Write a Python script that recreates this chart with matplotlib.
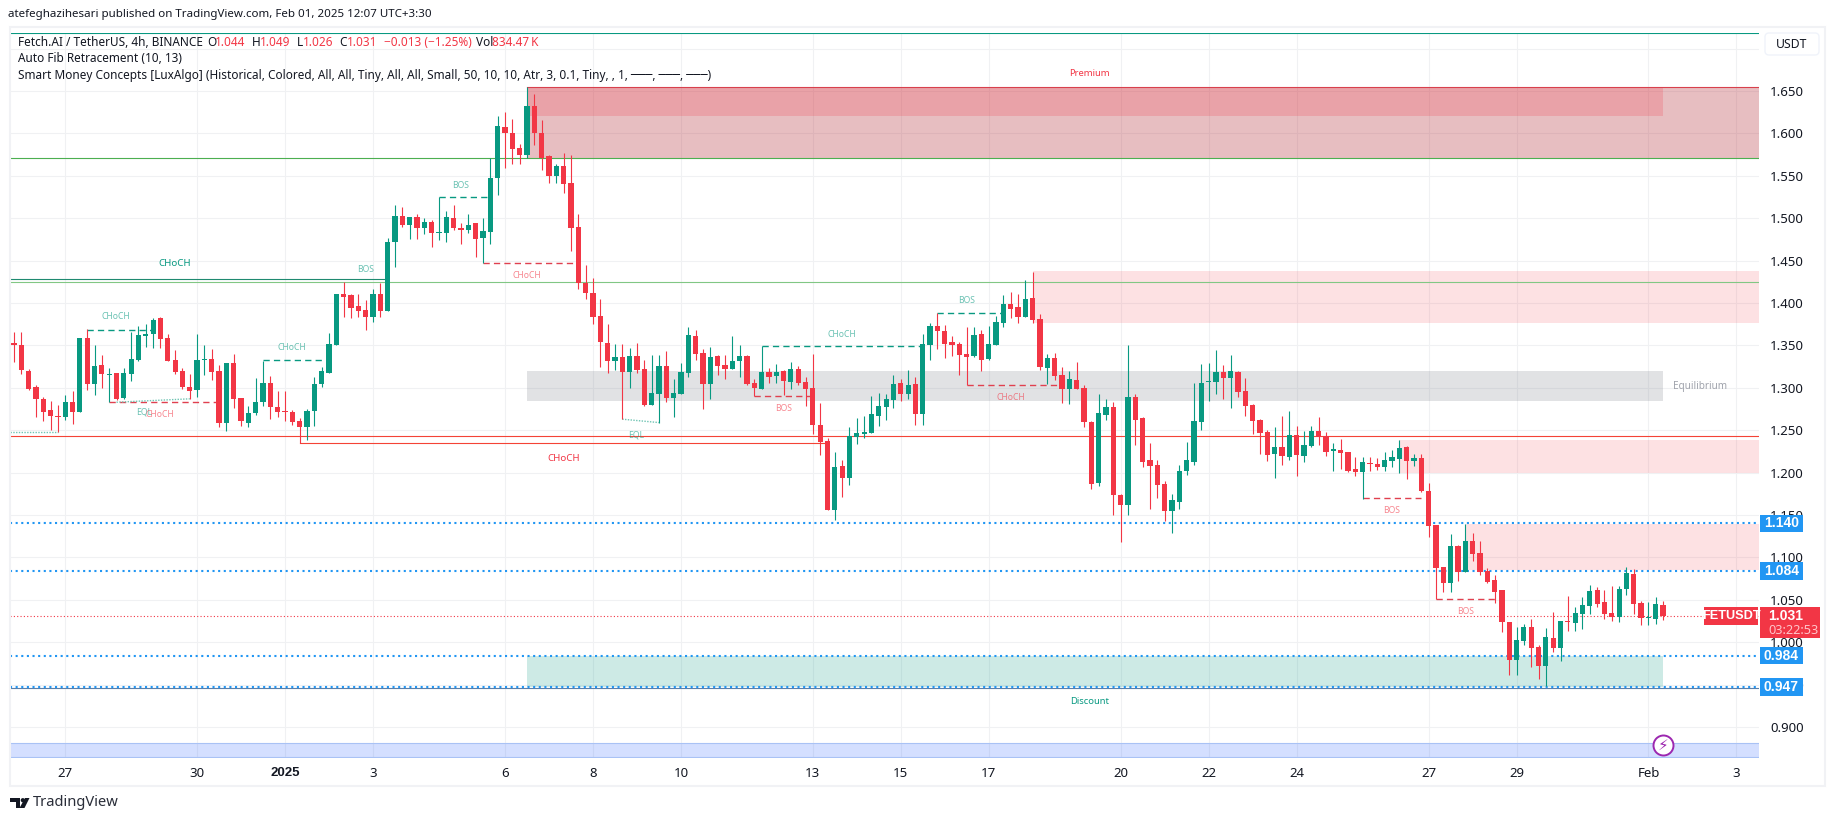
import numpy as np
import matplotlib
matplotlib.use('Agg')
from matplotlib import pyplot as plt
from matplotlib.patches import Rectangle, FancyBboxPatch, Polygon, Circle

plt.rcParams['font.family'] = ['Noto Sans', 'DejaVu Sans']

# 4h candles
open_ = [1.353,1.351,1.320,1.301,1.287,1.274,1.267,1.266,1.283,1.271,
         1.359,1.305,1.327,1.315,1.317,1.288,1.316,1.333,1.361,1.364,
         1.382,1.359,1.333,1.320,1.301,1.297,1.333,1.334,1.320,1.259,
         1.329,1.288,1.259,1.270,1.283,1.306,1.277,1.272,1.272,1.261,
         1.254,1.273,1.305,1.318,1.351,1.411,1.409,1.396,1.392,1.384,
         1.411,1.391,1.472,1.503,1.492,1.502,1.488,1.496,1.483,1.482,
         1.500,1.489,1.486,1.494,1.477,1.484,1.547,1.608,1.601,1.583,
         1.575,1.632,1.601,1.573,1.550,1.561,1.541,1.490,1.424,1.412,
         1.385,1.353,1.332,1.336,1.319,1.338,1.322,1.280,1.293,1.326,
         1.288,1.293,1.317,1.361,1.341,1.305,1.338,1.327,1.322,1.332,
         1.338,1.306,1.299,1.319,1.314,1.320,1.307,1.322,1.307,1.300,
         1.256,1.237,1.156,1.208,1.194,1.242,1.246,1.247,1.267,1.277,
         1.286,1.306,1.293,1.305,1.269,1.350,1.373,1.367,1.354,1.352,
         1.340,1.338,1.363,1.334,1.350,1.376,1.399,1.395,1.384,1.406,
         1.381,1.323,1.335,1.315,1.299,1.309,1.300,1.260,1.188,1.268,
         1.277,1.174,1.162,1.289,1.264,1.215,1.209,1.187,1.155,1.165,
         1.202,1.213,1.260,1.307,1.307,1.319,1.312,1.319,1.296,1.280,
         1.262,1.248,1.222,1.230,1.218,1.244,1.220,1.231,1.249,1.243,
         1.226,1.227,1.224,1.204,1.201,1.211,1.210,1.207,1.214,1.216,
         1.230,1.214,1.217,1.178,1.138,1.089,1.070,1.113,1.083,1.119,
         1.105,1.084,1.073,1.062,1.024,0.979,1.001,1.018,0.994,0.972,
         1.005,0.993,1.025,1.023,1.033,1.043,1.062,1.047,1.034,1.030,
         1.063,1.080,1.046,1.028,1.027,1.044]
high = [1.366,1.366,1.322,1.303,1.289,1.285,1.280,1.292,1.296,1.359,
        1.369,1.351,1.339,1.323,1.318,1.323,1.366,1.373,1.375,1.382,
        1.384,1.364,1.344,1.323,1.316,1.363,1.350,1.346,1.327,1.329,
        1.340,1.288,1.279,1.312,1.332,1.314,1.296,1.296,1.274,1.264,
        1.275,1.313,1.325,1.365,1.411,1.425,1.411,1.411,1.404,1.416,
        1.423,1.477,1.515,1.513,1.502,1.505,1.500,1.498,1.525,1.509,
        1.515,1.494,1.505,1.494,1.500,1.571,1.621,1.625,1.617,1.587,
        1.655,1.646,1.616,1.575,1.564,1.577,1.575,1.505,1.445,1.430,
        1.405,1.375,1.352,1.352,1.347,1.353,1.333,1.339,1.339,1.343,
        1.310,1.329,1.372,1.368,1.346,1.348,1.339,1.339,1.361,1.350,
        1.339,1.310,1.349,1.323,1.328,1.321,1.330,1.326,1.313,1.340,
        1.282,1.241,1.224,1.215,1.254,1.264,1.267,1.290,1.294,1.293,
        1.315,1.310,1.321,1.313,1.364,1.376,1.388,1.374,1.361,1.354,
        1.372,1.372,1.368,1.373,1.385,1.409,1.413,1.411,1.427,1.437,
        1.387,1.340,1.341,1.325,1.320,1.330,1.303,1.261,1.293,1.287,
        1.283,1.175,1.350,1.293,1.266,1.235,1.215,1.190,1.175,1.209,
        1.236,1.306,1.328,1.329,1.345,1.327,1.339,1.320,1.312,1.281,
        1.263,1.250,1.254,1.267,1.273,1.255,1.249,1.255,1.266,1.248,
        1.235,1.240,1.224,1.218,1.218,1.218,1.217,1.224,1.227,1.238,
        1.231,1.222,1.222,1.188,1.138,1.089,1.128,1.115,1.139,1.129,
        1.119,1.088,1.079,1.062,1.024,1.018,1.022,1.027,0.997,1.017,
        1.036,1.025,1.055,1.042,1.053,1.067,1.065,1.062,1.066,1.066,
        1.089,1.086,1.049,1.047,1.053,1.049]
low = [1.330,1.316,1.297,1.265,1.261,1.250,1.248,1.262,1.257,1.271,
       1.297,1.291,1.300,1.283,1.286,1.287,1.308,1.332,1.348,1.347,
       1.347,1.332,1.316,1.298,1.287,1.289,1.315,1.309,1.254,1.249,
       1.276,1.255,1.254,1.268,1.279,1.263,1.266,1.261,1.256,1.235,
       1.238,1.255,1.301,1.318,1.351,1.384,1.382,1.384,1.368,1.378,
       1.384,1.391,1.443,1.490,1.476,1.475,1.481,1.466,1.474,1.472,
       1.486,1.469,1.482,1.454,1.447,1.470,1.527,1.559,1.564,1.564,
       1.571,1.586,1.557,1.541,1.541,1.530,1.461,1.417,1.405,1.375,
       1.324,1.318,1.321,1.263,1.300,1.317,1.279,1.280,1.258,1.283,
       1.266,1.293,1.313,1.333,1.275,1.287,1.315,1.310,1.322,1.313,
       1.303,1.290,1.299,1.306,1.306,1.292,1.299,1.303,1.279,1.246,
       1.221,1.156,1.144,1.171,1.185,1.234,1.241,1.247,1.255,1.262,
       1.276,1.284,1.287,1.256,1.256,1.333,1.346,1.335,1.338,1.315,
       1.303,1.336,1.320,1.333,1.350,1.372,1.382,1.376,1.384,1.376,
       1.321,1.305,1.309,1.282,1.281,1.299,1.254,1.181,1.184,1.262,
       1.150,1.118,1.150,1.233,1.207,1.157,1.170,1.143,1.129,1.157,
       1.197,1.209,1.250,1.284,1.293,1.287,1.276,1.289,1.267,1.246,
       1.222,1.214,1.194,1.209,1.215,1.196,1.213,1.230,1.233,1.220,
       1.202,1.204,1.201,1.196,1.169,1.202,1.203,1.202,1.207,1.200,
       1.192,1.208,1.177,1.124,1.051,1.059,1.059,1.072,1.083,1.096,
       1.079,1.070,1.046,1.012,0.961,0.961,0.997,0.971,0.957,0.948,
       0.989,0.978,1.013,1.013,1.016,1.033,1.042,1.027,1.025,1.024,
       1.056,1.033,1.020,1.020,1.022,1.026]
close = [1.350,1.321,1.299,1.287,1.272,1.267,1.266,1.283,1.271,1.359,
         1.305,1.326,1.316,1.316,1.287,1.317,1.334,1.362,1.364,1.380,
         1.358,1.332,1.319,1.301,1.296,1.333,1.334,1.319,1.259,1.329,
         1.287,1.261,1.270,1.283,1.306,1.277,1.272,1.271,1.260,1.254,
         1.273,1.305,1.320,1.352,1.411,1.407,1.394,1.390,1.384,1.411,
         1.391,1.472,1.503,1.492,1.501,1.488,1.495,1.482,1.484,1.501,
         1.488,1.486,1.492,1.476,1.485,1.547,1.609,1.600,1.582,1.574,
         1.632,1.600,1.571,1.550,1.561,1.540,1.489,1.423,1.412,1.384,
         1.354,1.332,1.336,1.319,1.338,1.321,1.280,1.294,1.326,1.288,
         1.294,1.319,1.362,1.340,1.305,1.336,1.326,1.322,1.332,1.338,
         1.305,1.300,1.319,1.313,1.319,1.308,1.322,1.306,1.299,1.256,
         1.236,1.156,1.207,1.194,1.243,1.247,1.247,1.269,1.279,1.287,
         1.305,1.293,1.303,1.269,1.352,1.373,1.367,1.352,1.350,1.339,
         1.336,1.362,1.333,1.352,1.378,1.399,1.393,1.384,1.405,1.380,
         1.325,1.335,1.314,1.299,1.310,1.299,1.260,1.187,1.270,1.277,
         1.174,1.162,1.289,1.262,1.213,1.208,1.185,1.155,1.168,1.202,
         1.215,1.261,1.306,1.308,1.319,1.312,1.320,1.295,1.279,1.261,
         1.247,1.221,1.230,1.220,1.244,1.221,1.233,1.249,1.242,1.224,
         1.227,1.223,1.202,1.201,1.213,1.210,1.207,1.215,1.218,1.229,
         1.214,1.217,1.178,1.137,1.088,1.070,1.113,1.083,1.119,1.104,
         1.083,1.071,1.059,1.024,0.979,1.003,1.018,0.993,0.972,1.006,
         0.993,1.025,1.024,1.034,1.044,1.060,1.045,1.033,1.030,1.063,
         1.082,1.045,1.029,1.029,1.045,1.031]

# date labels and the candle each one sits on
date_bars = [7, 25, 37, 49, 67, 79, 91, 109, 121, 133, 151, 163, 175, 193, 205, 223, 235]
date_labels = ['27', '30', '2025', '3', '6', '8', '10', '13', '15', '17', '20', '22', '24', '27', '29', 'Feb', '3']
price_ticks = [0.90, 0.95, 1.00, 1.05, 1.10, 1.15, 1.20, 1.25, 1.30, 1.35, 1.40, 1.45, 1.50, 1.55, 1.60, 1.65, 1.70]

# smart money zones: first bar, last bar, bottom, top
zone_start = [70, 70, 139, 70, 189, 198, 70]
zone_end = [238.1, 225, 238.1, 225, 238.1, 238.1, 225]
zone_bottom = [1.571, 1.620, 1.377, 1.285, 1.200, 1.085, 0.947]
zone_top = [1.655, 1.655, 1.4375, 1.320, 1.2385, 1.139, 0.984]
zone_color = ['#b22833', '#F23645', '#F23645', '#787B86', '#F23645', '#F23645', '#089981']
zone_alpha = [0.30, 0.20, 0.15, 0.22, 0.15, 0.15, 0.20]

# dashed structure breaks
struct_start = [10, 13, 34, 58, 64, 101, 102, 126, 130, 184, 194]
struct_end = [19, 28, 43, 65, 77, 109, 124, 135, 143, 192, 202]
struct_price = [1.368, 1.283, 1.333, 1.525, 1.447, 1.290, 1.349, 1.388, 1.303, 1.170, 1.051]
struct_up = [True, False, True, True, False, False, True, True, False, False, False]

# small labels: bar, price, text, bullish or not
label_bar = [13.9, 37.9, 17.8, 19.9, 48, 61, 70, 84.9, 105, 113, 130, 136, 188, 198]
label_price = [1.384, 1.348, 1.272, 1.269, 1.440, 1.539, 1.433, 1.2445, 1.276, 1.363, 1.403, 1.2885, 1.155, 1.036]
label_text = ['CHoCH', 'CHoCH', 'EQL', 'CHoCH', 'BOS', 'BOS', 'CHoCH', 'EQL', 'BOS', 'CHoCH', 'BOS', 'CHoCH', 'BOS', 'BOS']
label_up = [True, True, True, False, True, True, False, True, False, True, True, False, False, False]

eql_start = [-1, 14, 83]
eql_end = [6, 24, 88]
eql_from = [1.248, 1.283, 1.263]
eql_to = [1.248, 1.287, 1.259]

fib_levels = [1.140, 1.084, 0.984, 0.947]
last_price = 1.031

GREEN = '#089981'
RED = '#F23645'
BLUE = '#2196F3'
INK = '#131722'
BOLD = ['Liberation Sans', 'DejaVu Sans']

W, H = 1835, 821
fig = plt.figure(figsize=(W / 100, H / 100), dpi=100, facecolor='white')
ax = fig.add_axes([10 / W, 1 - 757.7 / H, 1749 / W, 724.7 / H])
ax.set_xlim(-0.53, 238.08)
ax.set_ylim(0.8638, 1.7184)

ax.set_yticks(price_ticks)
ax.set_yticklabels(['%.3f' % p if p < 1.69 else '' for p in price_ticks])
ax.yaxis.tick_right()
ax.set_xticks(date_bars)
ax.set_xticklabels(date_labels)
ax.tick_params(axis='both', length=0, labelsize=9.5, labelcolor=INK)
ax.tick_params(axis='y', pad=8)
ax.tick_params(axis='x', pad=7)
ax.get_xticklabels()[2].set_fontweight('bold')
ax.get_xticklabels()[2].set_family(BOLD)
for s in ax.spines.values():
    s.set_visible(False)
ax.grid(True, color='#f0f1f3', lw=0.8)
ax.set_axisbelow(True)

# zones
for x0, x1, y0, y1, c, a in zip(zone_start, zone_end, zone_bottom, zone_top, zone_color, zone_alpha):
    ax.fill_between([x0, x1], y0, y1, color=c, alpha=a, lw=0, zorder=1)
ax.fill_between([-0.53, 238.08], 0.8638, 0.881, color='#2962FF', alpha=0.2, lw=0, zorder=1)
ax.plot([-0.53, 238.08], [0.881, 0.881], color='#a9c2f5', lw=0.8, zorder=1.5)
ax.plot([-0.53, 238.08], [0.8645, 0.8645], color='#a9c2f5', lw=0.8, zorder=1.5)

# long horizontals
ax.plot([-0.53, 238.08], [1.718, 1.718], color=GREEN, lw=0.8, zorder=2)
ax.plot([70, 238.08], [1.655, 1.655], color='#d8404c', lw=0.8, zorder=2)
ax.plot([-0.53, 238.08], [1.571, 1.571], color='#4CAF50', lw=0.8, zorder=2)
ax.plot([-0.53, 238.08], [1.4248, 1.4248], color='#81C784', lw=0.8, zorder=2)
ax.plot([-0.53, 51], [1.428, 1.428], color='#1f8a70', lw=0.8, zorder=2)
ax.plot([-0.53, 238.08], [1.2435, 1.2435], color='#F44336', lw=0.8, zorder=2)
ax.plot([39, 111], [1.235, 1.235], color='#F44336', lw=0.8, zorder=2)
ax.plot([-0.53, 238.08], [0.9465, 0.9465], color='#5b7fa8', lw=0.8, zorder=2)

for lvl in fib_levels:
    ax.plot([-0.53, 238.08], [lvl, lvl], color=BLUE, lw=1.5, ls=(0, (1, 1.7)), zorder=2.2)
ax.plot([-0.53, 238.08], [last_price, last_price], color=RED, lw=0.8, ls=(0, (1, 2)), zorder=2.2)

# structure lines
for x0, x1, p, up in zip(struct_start, struct_end, struct_price, struct_up):
    ax.plot([x0, x1], [p, p], color=GREEN if up else '#e0404f', lw=1, ls=(0, (4.5, 3)), zorder=2.4)
for x0, x1, p0, p1 in zip(eql_start, eql_end, eql_from, eql_to):
    ax.plot([max(x0, -0.53), x1], [p0, p1], color='#6fc4b3', lw=1, ls=(0, (1, 1)), zorder=2.4)

# candles
x = np.arange(len(close))
o = np.array(open_)
c = np.array(close)
colors = np.where(c >= o, GREEN, RED)
ax.vlines(x, low, high, colors=colors, lw=0.8, zorder=3)
ax.bar(x, np.maximum(np.abs(c - o), 0.0013), bottom=np.minimum(o, c), width=0.72, color=colors, lw=0, zorder=3.1)

# labels
for bx, p, t, up in zip(label_bar, label_price, label_text, label_up):
    ax.text(bx, p, t, color=GREEN if up else RED, fontsize=6.2, ha='center', va='center', alpha=0.6, zorder=4)
ax.text(22, 1.447, 'CHoCH', color=GREEN, fontsize=7, ha='center', va='center', zorder=4)
ax.text(75, 1.217, 'CHoCH', color=RED, fontsize=7, ha='center', va='center', zorder=4)
ax.text(146.8, 1.671, 'Premium', color=RED, fontsize=6.8, ha='center', va='center', zorder=4)
ax.text(146.8, 0.9295, 'Discount', color=GREEN, fontsize=6.8, ha='center', va='center', zorder=4)
ax.text(230, 1.301, 'Equilibrium', color='#a0a3ac', fontsize=7.2, ha='center', va='center', zorder=4)

# price tags on the scale
tr = ax.get_yaxis_transform()
for lvl in fib_levels:
    ax.add_patch(Rectangle((1.0005, lvl - 0.0102), 0.0246, 0.0204, transform=tr, color=BLUE, clip_on=False, lw=0, zorder=6))
    ax.text(1.0127, lvl, '%.3f' % lvl, transform=tr, color='white', fontsize=10, fontweight='bold', family=BOLD, ha='center', va='center', clip_on=False, zorder=7)
ax.add_patch(Rectangle((0.9688, last_price - 0.0102), 0.0307, 0.0204, transform=tr, color=RED, clip_on=False, lw=0, zorder=6))
ax.text(0.9842, last_price, 'FETUSDT', transform=tr, color='white', fontsize=9.2, fontweight='bold', family=BOLD, ha='center', va='center', clip_on=False, zorder=7)
ax.add_patch(Rectangle((1.0005, last_price - 0.0262), 0.0343, 0.0364, transform=tr, color=RED, clip_on=False, lw=0, zorder=6))
ax.text(1.0052, last_price, '1.031', transform=tr, color='white', fontsize=10, fontweight='bold', family=BOLD, ha='left', va='center', clip_on=False, zorder=7)
ax.text(1.0052, last_price - 0.0168, '03:22:53', transform=tr, color='#ffc4c9', fontsize=9.2, ha='left', va='center', clip_on=False, zorder=7)

# page furniture, drawn in pixels
pg = fig.add_axes([0, 0, 1, 1], zorder=5)
pg.set_xlim(0, W)
pg.set_ylim(H, 0)
pg.axis('off')
pg.patch.set_alpha(0)
pg.add_patch(Rectangle((9.5, 27.5), 1815, 759, fill=False, ec='#f1f2f5', lw=1.5))
pg.add_patch(FancyBboxPatch((1765, 33), 54, 22, boxstyle='round,pad=0,rounding_size=4', fc='white', ec='#f0f3fa', lw=1))
pg.text(1792, 44.5, 'USDT', color=INK, fontsize=8.8, ha='center', va='center')
pg.text(8, 15, 'atefeghazihesari published on TradingView.com, Feb 01, 2025 12:07 UTC+3:30', color=INK, fontsize=8.3, va='center')

pg.text(18, 42, 'Fetch.AI / TetherUS, 4h, BINANCE', color=INK, fontsize=8.5, va='center')
head_x = [207, 215, 252, 260, 296.5, 302.5, 339, 347, 383.5, 475.7, 492]
head_t = ['O', '1.044', 'H', '1.049', 'L', '1.026', 'C', '1.031', '\u22120.013 (\u22121.25%)', 'Vol', '834.47\u2009K']
head_c = [INK, RED, INK, RED, INK, RED, INK, RED, RED, INK, RED]
for hx, ht, hc in zip(head_x, head_t, head_c):
    pg.text(hx, 42, ht, color=hc, fontsize=8.5, va='center')
pg.text(18, 59, 'Auto Fib Retracement (10, 13)', color=INK, fontsize=8.5, va='center')
pg.text(18, 76, 'Smart Money Concepts [LuxAlgo] (Historical, Colored, All, All, Tiny, All, All, Small, 50, 10, 10, Atr, 3, 0.1, Tiny, , 1, \u2500\u2500\u2500, \u2500\u2500\u2500, \u2500\u2500\u2500)', color=INK, fontsize=8.5, va='center')

# logo
pg.add_patch(Polygon([(10, 798), (20, 798), (20, 808), (15.5, 808), (15.5, 802.5), (10, 802.5)], color=INK, lw=0))
pg.add_patch(Circle((22.8, 800.2), 2.1, color=INK, lw=0))
pg.add_patch(Polygon([(25, 798), (29.5, 798), (24.5, 808), (19.5, 808)], color=INK, lw=0))
pg.text(33, 803, 'TradingView', color='#2a2e39', fontsize=10.6, va='center')

# lightning badge
pg.add_patch(Circle((1663.5, 745.5), 10, fc='white', ec='#9C27B0', lw=1.4))
pg.text(1663.5, 745.5, '\u26a1', color='#9C27B0', fontsize=11, ha='center', va='center', family=['DejaVu Sans'])

fig.savefig('out.png', dpi=100)
